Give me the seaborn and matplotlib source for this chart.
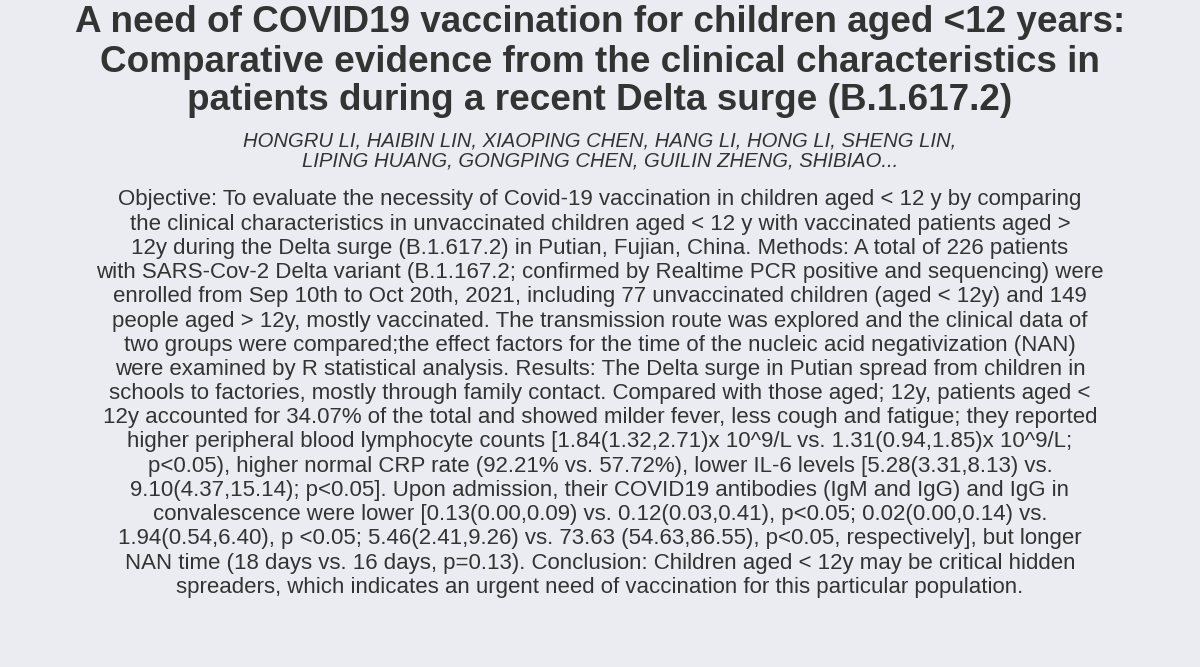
import matplotlib
matplotlib.use("Agg")
import matplotlib.pyplot as plt
import seaborn as sns

TITLE_LINES = [
    "A need of COVID19 vaccination for children aged <12 years:",
    "Comparative evidence from the clinical characteristics in",
    "patients during a recent Delta surge (B.1.617.2)",
]
AUTHOR_LINES = [
    "HONGRU LI, HAIBIN LIN, XIAOPING CHEN, HANG LI, HONG LI, SHENG LIN,",
    "LIPING HUANG, GONGPING CHEN, GUILIN ZHENG, SHIBIAO...",
]
ABSTRACT_LINES = [
    "Objective: To evaluate the necessity of Covid-19 vaccination in children aged < 12 y by comparing",
    "the clinical characteristics in unvaccinated children aged < 12 y with vaccinated patients aged >",
    "12y during the Delta surge (B.1.617.2) in Putian, Fujian, China. Methods: A total of 226 patients",
    "with SARS-Cov-2 Delta variant (B.1.167.2; confirmed by Realtime PCR positive and sequencing) were",
    "enrolled from Sep 10th to Oct 20th, 2021, including 77 unvaccinated children (aged < 12y) and 149",
    "people aged > 12y, mostly vaccinated. The transmission route was explored and the clinical data of",
    "two groups were compared;the effect factors for the time of the nucleic acid negativization (NAN)",
    "were examined by R statistical analysis. Results: The Delta surge in Putian spread from children in",
    "schools to factories, mostly through family contact. Compared with those aged; 12y, patients aged <",
    "12y accounted for 34.07% of the total and showed milder fever, less cough and fatigue; they reported",
    "higher peripheral blood lymphocyte counts [1.84(1.32,2.71)x 10^9/L vs. 1.31(0.94,1.85)x 10^9/L;",
    "p<0.05), higher normal CRP rate (92.21% vs. 57.72%), lower IL-6 levels [5.28(3.31,8.13) vs.",
    "9.10(4.37,15.14); p<0.05]. Upon admission, their COVID19 antibodies (IgM and IgG) and IgG in",
    "convalescence were lower [0.13(0.00,0.09) vs. 0.12(0.03,0.41), p<0.05; 0.02(0.00,0.14) vs.",
    "1.94(0.54,6.40), p <0.05; 5.46(2.41,9.26) vs. 73.63 (54.63,86.55), p<0.05, respectively], but longer",
    "NAN time (18 days vs. 16 days, p=0.13). Conclusion: Children aged < 12y may be critical hidden",
    "spreaders, which indicates an urgent need of vaccination for this particular population.",
]

BG = "#ebecf2"
INK = "#333333"

sns.set_theme(style="white")
plt.rcParams["font.family"] = ["Liberation Sans", "DejaVu Sans"]

W, H = 1200, 667
fig = plt.figure(figsize=(12, 6.67), dpi=100, facecolor=BG)
ax = fig.add_axes([0, 0, 1, 1])
ax.set_facecolor(BG)
ax.set_xlim(0, W)
ax.set_ylim(H, 0)
ax.axis("off")

for i, line in enumerate(TITLE_LINES):
    ax.text(W / 2, 23 + i * 39, line, ha="center", va="center",
            fontsize=26.6, fontweight="bold", color=INK)

for i, line in enumerate(AUTHOR_LINES):
    ax.text(W / 2, 141 + i * 20, line, ha="center", va="center",
            fontsize=14.6, style="italic", color=INK)

for i, line in enumerate(ABSTRACT_LINES):
    ax.text(W / 2, 200 + i * 24.2, line, ha="center", va="center",
            fontsize=16, color=INK)

fig.savefig("out.png", dpi=100, facecolor=BG)
